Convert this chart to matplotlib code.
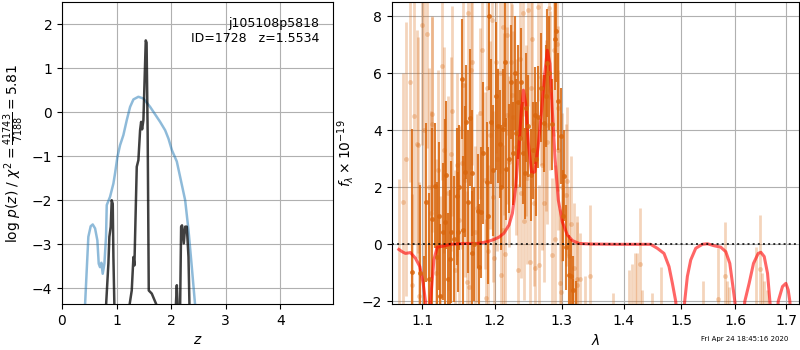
import matplotlib
matplotlib.use('Agg')
import matplotlib.pyplot as plt
from matplotlib.ticker import NullLocator

# left panel: redshift pdf
z_blue = [0.40, 0.422, 0.453, 0.483, 0.526, 0.563, 0.606, 0.648, 0.673, 0.697, 0.722, 0.746, 0.777,
          0.807, 0.82, 0.881, 0.942, 0.972, 1.015, 1.064, 1.125, 1.187, 1.248, 1.309, 1.40, 1.492,
          1.615, 1.798, 1.89, 1.951, 2.013, 2.104, 2.165, 2.257, 2.318, 2.379, 2.44, 2.46]
logp_blue = [-5.0, -4.39, -3.59, -2.83, -2.59, -2.55, -2.64, -2.91, -3.44, -3.52, -3.42, -3.67, -3.44,
             -2.83, -2.11, -1.92, -1.62, -1.39, -1.02, -0.75, -0.52, -0.18, 0.12, 0.29, 0.35, 0.31,
             0.12, -0.22, -0.41, -0.6, -0.86, -1.12, -1.47, -2.0, -2.68, -3.52, -4.39, -5.0]

z_black = [0.0, 0.80, 0.807, 0.850, 0.868, 0.893, 0.911, 0.930, 0.942, 0.960, 0.97, 1.22, 1.235, 1.278,
           1.309, 1.327, 1.345, 1.370, 1.40, 1.431, 1.45, 1.468, 1.492, 1.52, 1.535, 1.55, 1.57, 1.59,
           1.645, 1.74, 1.75, 2.075, 2.086, 2.104, 2.12, 2.13, 2.155, 2.165, 2.183, 2.2, 2.232, 2.257,
           2.287, 2.318, 2.336, 2.35, 4.9]
logp_black = [-8.0, -6.0, -4.4, -3.44, -2.83, -2.6, -2.0, -2.08, -3.29, -4.4, -6.0, -6.0, -4.4, -4.05,
              -3.29, -3.48, -2.53, -1.24, -1.09, -0.41, -0.22, -0.39, -0.18, 1.0, 1.63, 1.58, -0.5, -4.05,
              -4.12, -4.4, -6.0, -6.0, -4.4, -3.93, -4.4, -6.0, -6.0, -4.4, -2.6, -2.57, -2.98, -2.6,
              -2.6, -3.29, -4.4, -6.0, -8.0]

# right panel: spectrum, light beam
lam_light = [1.0697, 1.0838, 1.0869, 1.0926, 1.0942, 1.1000, 1.1066, 1.1123, 1.1131, 1.1132, 1.1208,
             1.1266, 1.1289, 1.1389, 1.1402, 1.1471, 1.1494, 1.1531, 1.1577, 1.1601, 1.1619, 1.1656,
             1.1679, 1.1712, 1.1749, 1.1820, 1.1853, 1.1891, 1.1900, 1.1929, 1.1962, 1.1976, 1.1986,
             1.2035, 1.2073, 1.2093, 1.2122, 1.2131, 1.2146, 1.2170, 1.2180, 1.2229, 1.2254, 1.2268,
             1.2303, 1.2367, 1.2387, 1.2416, 1.2426, 1.2476, 1.2491, 1.2515, 1.2524, 1.2577, 1.2592,
             1.2628, 1.2651, 1.2674, 1.2727, 1.2750, 1.2776, 1.2796, 1.2853, 1.2879, 1.2930, 1.2940,
             1.2946, 1.2972, 1.2992, 1.3008, 1.3060, 1.3076, 1.3150, 1.3192, 1.3235, 1.3245,
             1.3368, 1.344, 1.3823, 1.409, 1.4147, 1.4192, 1.4231, 1.427, 1.4305, 1.449, 1.4634,
             1.5396, 1.5662, 1.5807, 1.585, 1.588, 1.6398, 1.6485, 1.6516, 1.6564, 1.6616,
             1.0745, 1.0790, 1.0890, 1.0960, 1.1030, 1.1090, 1.1180, 1.1240, 1.1350, 1.1440,
             1.1550, 1.1640, 1.1790, 1.1870, 1.2010, 1.2110, 1.2200, 1.2330, 1.2450, 1.2550,
             1.2700, 1.2820, 1.2900, 1.3110, 1.3280]
f_light = [-2.3, 5.68, -1.43, 3.52, 3.48, 7.69, 7.37, 1.09, 4.57, 4.22, 2.60,
           6.25, 3.31, 3.17, 4.68, 2.80, 0.85, 2.84, 2.25, -1.34, 8.10, 6.13,
           6.40, 0.44, 1.26, 6.83, 2.25, 5.47, -0.22, 3.83, 7.86, 1.67, -0.49,
           2.98, 6.02, -1.07, 7.63, 4.22, -0.34, 7.34, 4.53, 6.40, 5.23, 4.47,
           3.42, 6.52, 1.81, 8.10, 0.83, 2.31, 8.24, -0.61, 5.47, 1.44, -0.84,
           8.33, -0.72, 5.88, 1.46, 4.18, 3.60, 8.31, -0.37, 6.81, 7.04, 4.77,
           3.31, -1.37, -1.66, 2.02, 1.73, 2.23, 0.71, -0.84, -1.43, -1.21,
           -2.6, -1.11, -2.5, -2.6, -2.4, -2.7, -2.3, -0.69, -2.5, -2.6, -2.5,
           -2.6, -1.92, -1.11, -2.5, -2.4, -2.6, -0.87, -2.4, -2.5, -2.6,
           1.5, 3.0, 4.5, -1.8, 4.0, 2.0, -1.0, -1.8, 1.8, -0.9,
           5.6, -1.5, 4.6, -1.9, 6.4, 0.5, 2.9, -0.9, 4.0, 7.2,
           2.8, 5.4, 0.2, -0.4, -1.2]
e_light = [4.6, 3.5, 3.2, 4.0, 3.8, 4.2, 4.0, 3.6, 3.4, 3.8, 3.5,
           4.0, 3.6, 3.4, 3.7, 3.2, 3.3, 3.0, 3.4, 3.2, 3.8, 3.5,
           3.6, 3.0, 3.3, 3.6, 3.1, 3.4, 3.0, 3.3, 3.7, 3.0, 3.1,
           3.2, 3.5, 3.0, 3.6, 3.2, 3.0, 3.5, 3.1, 3.4, 3.2, 3.0,
           3.1, 3.3, 3.0, 3.6, 2.8, 3.0, 3.4, 2.9, 3.1, 2.9, 2.8,
           3.3, 2.8, 3.1, 2.8, 3.0, 2.9, 3.2, 2.7, 3.0, 3.1, 2.9,
           2.8, 2.6, 2.6, 2.6, 2.5, 2.6, 2.4, 2.3, 2.2, 2.2,
           1.5, 2.5, 0.8, 1.7, 1.7, 2.4, 2.0, 1.95, 0.9, 0.9, 1.7,
           1.3, 1.8, 1.9, 1.2, 0.9, 2.5, 1.9, 1.4, 1.2, 1.0,
           4.5, 4.8, 4.5, 4.0, 4.5, 4.2, 4.0, 3.5, 3.4, 3.5,
           3.0, 3.0, 3.0, 2.8, 3.2, 3.0, 3.0, 3.0, 3.0, 3.0,
           3.0, 2.8, 2.6, 2.4, 1.6]

# right panel: dark beam
lam_dark = [1.0872, 1.0976, 1.1046, 1.1131, 1.1165, 1.1197, 1.1272, 1.1313, 1.1340, 1.1386, 1.1431,
            1.1463, 1.1486, 1.1532, 1.1579, 1.1588, 1.1649, 1.1681, 1.1755, 1.1803, 1.1883, 1.1917,
            1.1950, 1.2047, 1.2070, 1.2120, 1.2167, 1.2206, 1.2229, 1.2265, 1.2313, 1.2362, 1.2387,
            1.2436, 1.2487, 1.2527, 1.2587, 1.2632, 1.2723, 1.2775, 1.2845, 1.2887, 1.2938, 1.3032,
            1.3070, 1.3111, 1.3148, 1.3180, 1.3220,
            1.1020, 1.1090, 1.1220, 1.1237, 1.1304, 1.1372, 1.1495, 1.1556, 1.1616, 1.1671, 1.1709,
            1.1775, 1.1836, 1.1897, 1.1974, 1.2012, 1.2095, 1.2143, 1.2288, 1.2338, 1.2412, 1.2461,
            1.2563, 1.2608, 1.2673, 1.2749, 1.2810, 1.2913, 1.2980, 1.3016, 1.3173]
f_dark = [-0.96, -1.02, 1.47, 0.89, 2.06, -0.43, 0.44, 2.43, -1.20, 0.44, 0.18,
          1.69, 0.44, 5.79, 2.55, 4.30, 4.45, -0.32, 1.18, 1.12, 2.18, 8.0,
          4.30, 4.15, 3.52, 4.06, 2.64, 3.01, 5.71, 3.19, 3.89, 3.72, 5.68,
          2.49, 4.15, 2.43, 4.53, 4.47, 4.24, 6.37, 4.21, 7.22, 5.02, 2.41,
          -0.11, -1.07, -1.10, -1.6, -2.3,
          -2.2, -1.2, 1.0, -1.8, 0.8, -0.5, 2.0, 0.5, 1.5, 2.5, 0.0,
          -0.8, 3.2, 1.0, 2.6, 5.2, 2.0, 6.4, 6.0, 5.0, 3.2, 4.8,
          3.3, 3.0, 5.5, 5.2, 6.0, 7.5, 3.8, 1.0, -2.4]
e_dark = [5.0, 3.1, 2.8, 3.2, 2.2, 2.6, 2.4, 2.6, 2.3, 2.5, 2.2,
          2.4, 2.1, 2.1, 2.3, 2.0, 2.4, 2.2, 2.0, 2.3, 2.1, 2.6,
          2.2, 2.0, 1.9, 2.1, 1.8, 1.9, 2.0, 1.8, 1.9, 1.7, 1.9,
          1.6, 1.8, 1.6, 1.7, 1.8, 1.7, 1.9, 1.6, 1.8, 1.7, 1.6,
          1.5, 1.4, 1.3, 1.2, 1.0,
          1.8, 3.0, 2.6, 2.5, 3.6, 2.4, 2.2, 2.6, 2.5, 2.2, 2.0,
          2.2, 2.5, 2.4, 2.3, 2.6, 2.2, 2.3, 2.0, 2.0, 1.8, 1.9,
          1.7, 2.0, 1.9, 1.8, 2.0, 1.8, 1.7, 1.6, 1.2]

# model
lam_model = [1.0697, 1.0740, 1.0783, 1.0847, 1.0912, 1.0969, 1.1013, 1.1044, 1.1077, 1.1110, 1.1155,
             1.1199, 1.1289, 1.1380, 1.1563, 1.1749, 1.1891, 1.1986, 1.2059, 1.2131, 1.2205, 1.2254,
             1.2303, 1.2352, 1.2387, 1.2416, 1.2451, 1.2491, 1.2540, 1.2587, 1.2637, 1.2685, 1.2737,
             1.2776, 1.2817, 1.2853, 1.2894, 1.2946, 1.3008, 1.3086, 1.3166, 1.3271, 1.3459, 1.3893,
             1.4457, 1.4574, 1.4691, 1.4779, 1.4839, 1.4898, 1.4978, 1.5059, 1.5107, 1.5168, 1.5259,
             1.5381, 1.5474, 1.5598, 1.5723, 1.5818, 1.5894, 1.5945, 1.5990, 1.6086, 1.6182, 1.6266,
             1.6351, 1.6443, 1.6496, 1.6562, 1.6628, 1.6675, 1.6760, 1.6842, 1.6929, 1.6997, 1.7044,
             1.7078, 1.712]
f_model = [-0.18, -0.26, -0.32, -0.29, -0.49, -0.78, -1.37, -2.0, -3.5, -2.0, -0.55,
           -0.1, -0.06, 0.0, 0.03, 0.03, 0.09, 0.17, 0.25, 0.39, 0.68, 1.09,
           2.02, 3.54, 4.71, 5.41, 4.94, 3.54, 2.49, 2.55, 3.42, 4.59, 5.99,
           6.81, 6.34, 4.71, 3.07, 1.55, 0.79, 0.33, 0.13, 0.03, 0.01, 0.0,
           0.0, -0.14, -0.32, -0.78, -1.37, -2.0, -4.0, -2.0, -1.13, -0.55, -0.14,
           0.0, 0.02, -0.05, -0.1, -0.26, -0.67, -1.37, -2.0, -4.0, -2.0, -1.37,
           -0.67, -0.32, -0.28, -0.43, -1.02, -2.0, -4.0, -2.0, -1.48, -1.37, -1.6,
           -2.0, -3.5]

lam_ticks = [1.1, 1.2, 1.3, 1.4, 1.5, 1.6, 1.7]

fig = plt.figure(figsize=(8, 3.5), dpi=100)
ax1 = fig.add_axes([0.0775, 0.131, 0.339, 0.863])
ax2 = fig.add_axes([0.49, 0.131, 0.509, 0.863])

ax1.plot(z_blue, logp_blue, color='tab:blue', alpha=0.5, lw=1.8)
ax1.plot(z_black, logp_black, color='k', alpha=0.75, lw=1.8)
ax1.set_xlim(0, 4.97)
ax1.set_ylim(-4.36, 2.5)
ax1.set_xticks([0, 1, 2, 3, 4])
ax1.set_yticks([-4, -3, -2, -1, 0, 1, 2])
ax1.grid()
ax1.set_xlabel(r'$z$')
ax1.set_ylabel(r'log $p(z)$ / $\chi^2=\frac{41743}{7188}=5.81$')
ax1.text(0.95, 0.95, 'j105108p5818\nID=1728   z=1.5534', ha='right', va='top',
         transform=ax1.transAxes, fontsize=9)

orange = '#d9660d'
ax2.errorbar(lam_light, f_light, yerr=e_light, color=orange, alpha=0.28, marker='o', ms=3.5,
             linestyle='None', elinewidth=2, mew=0)
ax2.errorbar(lam_dark, f_dark, yerr=e_dark, color=orange, alpha=0.85, marker='o', ms=3.5,
             linestyle='None', elinewidth=1.5, mew=0)
ax2.plot(lam_model, f_model, color='r', alpha=0.6, lw=2.2)
ax2.axhline(0, color='k', linestyle=':', lw=1.4, alpha=0.8)
ax2.set_xscale('log')
ax2.set_xlim(1.061, 1.727)
ax2.set_xticks(lam_ticks, [str(t) for t in lam_ticks])
ax2.xaxis.set_minor_locator(NullLocator())
ax2.set_ylim(-2.1, 8.5)
ax2.set_yticks([-2, 0, 2, 4, 6, 8])
ax2.grid()
ax2.set_xlabel(r'$\lambda$')
ax2.set_ylabel(r'$f_\lambda\times10^{-19}$')

fig.text(0.985, 0.022, 'Fri Apr 24 18:45:16 2020', ha='right', va='bottom', fontsize=5)

plt.savefig('out.png', dpi=100)
